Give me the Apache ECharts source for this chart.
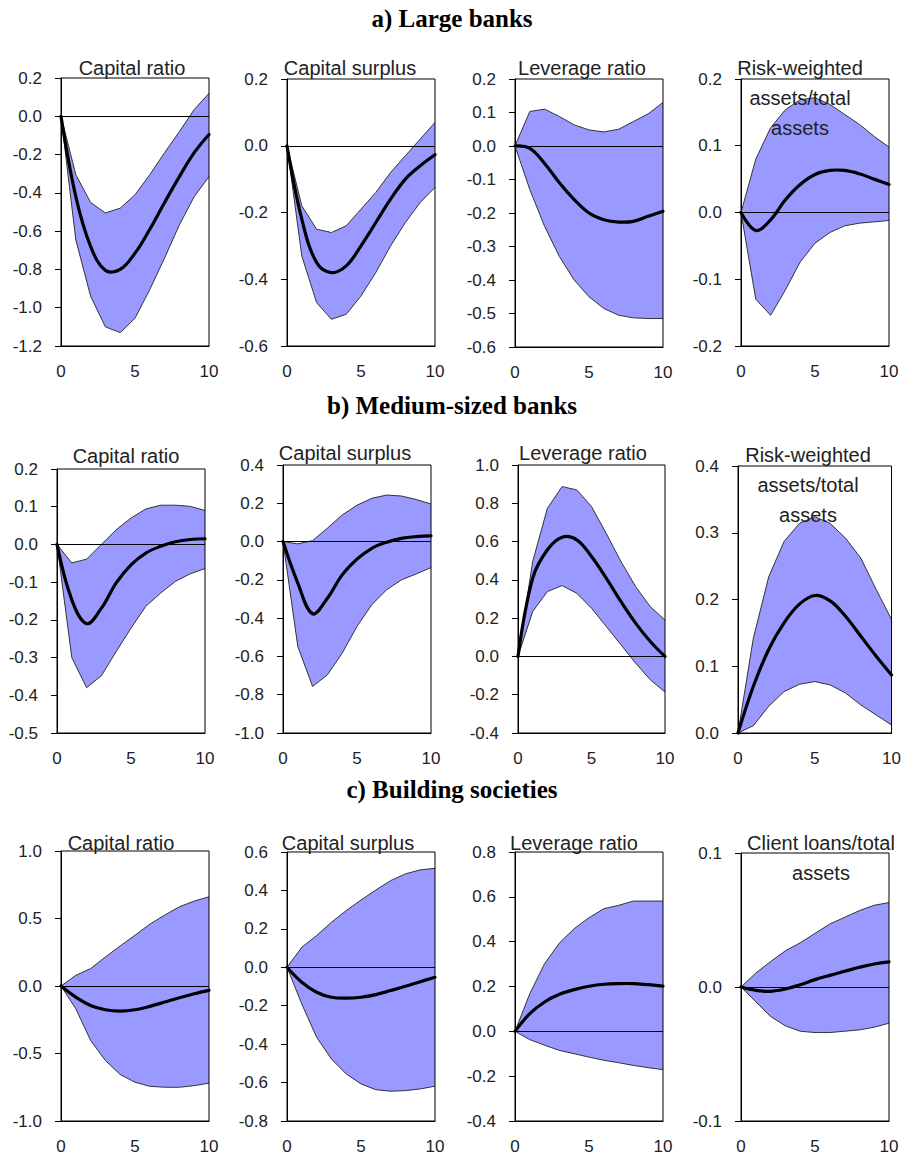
<!DOCTYPE html>
<html><head><meta charset="utf-8">
<script src="https://cdn.jsdelivr.net/npm/echarts@6/dist/echarts.min.js"></script>
<style>html,body{margin:0;padding:0;background:#fff}#c{width:904px;height:1157px}</style>
</head><body><div id="c"></div>
<script>
// ---------------- data ----------------
const horizon = [0, 1, 2, 3, 4, 5, 6, 7, 8, 9, 10];
const sectionTitles = ['a) Large banks', 'b) Medium-sized banks', 'c) Building societies'];
const panelTitles = [
  'Capital ratio', 'Capital surplus', 'Leverage ratio', 'Risk-weighted\nassets/total\nassets',
  'Capital ratio', 'Capital surplus', 'Leverage ratio', 'Risk-weighted\nassets/total\nassets',
  'Capital ratio', 'Capital surplus', 'Leverage ratio', 'Client loans/total\nassets'
];
// y-axis tick ranges [min, max, step]
const yTickRanges = [
  [-1.2, 0.2, 0.2], [-0.6, 0.2, 0.2], [-0.6, 0.2, 0.1], [-0.2, 0.2, 0.1],
  [-0.5, 0.2, 0.1], [-1.0, 0.4, 0.2], [-0.4, 1.0, 0.2], [0.0, 0.4, 0.1],
  [-1.0, 1.0, 0.5], [-0.8, 0.6, 0.2], [-0.4, 0.8, 0.2], [-0.1, 0.1, 0.1]
];

// a) Large banks
const largeCapRatioMean = [0, -0.42, -0.68, -0.805, -0.80, -0.715, -0.59, -0.45, -0.315, -0.19, -0.095];
const largeCapRatioLow  = [0, -0.645, -0.94, -1.10, -1.13, -1.055, -0.905, -0.74, -0.567, -0.42, -0.315];
const largeCapRatioHigh = [0, -0.305, -0.45, -0.505, -0.48, -0.41, -0.305, -0.19, -0.08, 0.035, 0.12];

const largeCapSurplusMean = [0, -0.22, -0.35, -0.38, -0.36, -0.30, -0.23, -0.16, -0.10, -0.06, -0.027];
const largeCapSurplusLow  = [0, -0.33, -0.47, -0.52, -0.505, -0.45, -0.38, -0.30, -0.23, -0.17, -0.125];
const largeCapSurplusHigh = [0, -0.18, -0.25, -0.26, -0.24, -0.19, -0.14, -0.08, -0.03, 0.02, 0.07];

const largeLeverageMean = [0, -0.007, -0.052, -0.11, -0.16, -0.20, -0.22, -0.227, -0.225, -0.21, -0.195];
const largeLeverageLow  = [0, -0.13, -0.24, -0.33, -0.40, -0.45, -0.485, -0.505, -0.513, -0.515, -0.515];
const largeLeverageHigh = [0, 0.103, 0.11, 0.088, 0.063, 0.048, 0.042, 0.05, 0.073, 0.096, 0.13];

const largeRwaMean = [0, -0.027, -0.011, 0.019, 0.042, 0.057, 0.063, 0.063, 0.058, 0.05, 0.042];
const largeRwaLow  = [0, -0.13, -0.154, -0.116, -0.074, -0.046, -0.03, -0.02, -0.016, -0.014, -0.012];
const largeRwaHigh = [0, 0.08, 0.127, 0.154, 0.169, 0.172, 0.162, 0.147, 0.132, 0.114, 0.098];

// b) Medium-sized banks
const medCapRatioMean = [0, -0.147, -0.21, -0.169, -0.102, -0.054, -0.023, -0.005, 0.007, 0.013, 0.015];
const medCapRatioLow  = [0, -0.30, -0.38, -0.348, -0.284, -0.222, -0.164, -0.129, -0.098, -0.078, -0.064];
const medCapRatioHigh = [0, -0.049, -0.039, 0.0, 0.039, 0.07, 0.094, 0.104, 0.104, 0.101, 0.09];

const medCapSurplusMean = [0, -0.217, -0.377, -0.296, -0.174, -0.092, -0.035, -0.003, 0.017, 0.026, 0.03];
const medCapSurplusLow  = [0, -0.548, -0.757, -0.696, -0.583, -0.443, -0.33, -0.252, -0.2, -0.169, -0.136];
const medCapSurplusHigh = [0, -0.012, 0.005, 0.07, 0.139, 0.19, 0.226, 0.243, 0.238, 0.22, 0.196];

const medLeverageMean = [0, 0.409, 0.557, 0.623, 0.609, 0.522, 0.409, 0.287, 0.174, 0.078, 0.0];
const medLeverageLow  = [0, 0.235, 0.339, 0.37, 0.33, 0.252, 0.157, 0.061, -0.035, -0.122, -0.186];
const medLeverageHigh = [0, 0.496, 0.774, 0.887, 0.87, 0.783, 0.643, 0.496, 0.365, 0.26, 0.19];

const medRwaMean = [0, 0.07, 0.125, 0.165, 0.193, 0.206, 0.198, 0.175, 0.145, 0.115, 0.087];
const medRwaLow  = [0, 0.011, 0.04, 0.062, 0.073, 0.077, 0.072, 0.06, 0.042, 0.027, 0.012];
const medRwaHigh = [0, 0.142, 0.234, 0.287, 0.314, 0.324, 0.314, 0.292, 0.262, 0.215, 0.17];

// c) Building societies
const bsCapRatioMean = [0, -0.082, -0.144, -0.176, -0.186, -0.176, -0.151, -0.119, -0.087, -0.057, -0.032];
const bsCapRatioLow  = [0, -0.168, -0.403, -0.552, -0.656, -0.713, -0.743, -0.75, -0.75, -0.738, -0.72];
const bsCapRatioHigh = [0, 0.079, 0.129, 0.215, 0.297, 0.376, 0.458, 0.525, 0.587, 0.629, 0.661];

const bsCapSurplusMean = [0, -0.078, -0.13, -0.156, -0.161, -0.156, -0.142, -0.121, -0.099, -0.075, -0.052];
const bsCapSurplusLow  = [0, -0.191, -0.364, -0.477, -0.555, -0.607, -0.637, -0.645, -0.642, -0.633, -0.619];
const bsCapSurplusHigh = [0, 0.104, 0.165, 0.234, 0.295, 0.35, 0.402, 0.451, 0.486, 0.507, 0.515];

const bsLeverageMean = [0, 0.079, 0.131, 0.165, 0.186, 0.201, 0.21, 0.213, 0.213, 0.208, 0.202];
const bsLeverageLow  = [0, -0.037, -0.062, -0.085, -0.1, -0.115, -0.129, -0.14, -0.152, -0.162, -0.171];
const bsLeverageHigh = [0, 0.168, 0.302, 0.394, 0.458, 0.507, 0.547, 0.562, 0.581, 0.581, 0.581];

const bsLoansMean = [0, -0.0025, -0.0032, -0.0015, 0.0017, 0.0055, 0.0087, 0.0117, 0.0147, 0.0172, 0.0187];
const bsLoansLow  = [0, -0.011, -0.022, -0.029, -0.033, -0.034, -0.034, -0.033, -0.032, -0.030, -0.027];
const bsLoansHigh = [0, 0.0104, 0.019, 0.027, 0.033, 0.040, 0.047, 0.052, 0.057, 0.061, 0.063];

const panelSeries = [
  [largeCapRatioMean, largeCapRatioLow, largeCapRatioHigh],
  [largeCapSurplusMean, largeCapSurplusLow, largeCapSurplusHigh],
  [largeLeverageMean, largeLeverageLow, largeLeverageHigh],
  [largeRwaMean, largeRwaLow, largeRwaHigh],
  [medCapRatioMean, medCapRatioLow, medCapRatioHigh],
  [medCapSurplusMean, medCapSurplusLow, medCapSurplusHigh],
  [medLeverageMean, medLeverageLow, medLeverageHigh],
  [medRwaMean, medRwaLow, medRwaHigh],
  [bsCapRatioMean, bsCapRatioLow, bsCapRatioHigh],
  [bsCapSurplusMean, bsCapSurplusLow, bsCapSurplusHigh],
  [bsLeverageMean, bsLeverageLow, bsLeverageHigh],
  [bsLoansMean, bsLoansLow, bsLoansHigh]
];

// ---------------- layout ----------------
// plot rectangles [left, top, width, height]
const gridRects = [
  [61, 78, 148, 268], [287, 79, 148, 267], [515, 79, 148, 268], [741, 79, 148, 267],
  [57, 469, 148, 264], [283, 465, 148, 268], [518, 465, 147, 268], [738, 466, 154, 267],
  [61, 851, 148, 270], [287, 852, 148, 269], [515, 852, 148, 269], [741, 853, 148, 268]
];
// title anchor [centerX, firstLineCenterY]
const titleAnchors = [
  [132, 68], [350, 68], [582, 68], [800, 68],
  [126, 456], [345, 453], [583, 453], [808, 455],
  [121, 843], [348, 843], [574, 843], [821, 843]
];
const sectionAnchors = [[452, 18], [452, 405], [452, 789]];

const FONT = '"Liberation Sans", Arial, sans-serif';
const BAND = '#9999FF';

const grids = [], xAxes = [], yAxes = [], series = [], graphics = [];

gridRects.forEach(function (r, i) {
  grids.push({ left: r[0], top: r[1], width: r[2], height: r[3], show: true,
    borderColor: '#000', borderWidth: 1, backgroundColor: 'transparent', z: 10 });
  xAxes.push({ type: 'value', gridIndex: i, min: 0, max: 10, interval: 5,
    axisLine: { show: true, onZero: false, lineStyle: { color: '#000', width: 1 } },
    axisTick: { show: false }, splitLine: { show: false },
    axisLabel: { fontSize: 17, color: '#222', fontFamily: FONT, margin: 17 } });
  const yr = yTickRanges[i];
  yAxes.push({ type: 'value', gridIndex: i, min: yr[0], max: yr[1], interval: yr[2],
    axisLine: { show: true, onZero: false, lineStyle: { color: '#000', width: 1 } },
    axisTick: { show: true, inside: false, length: 6, lineStyle: { color: '#000' } },
    splitLine: { show: false },
    axisLabel: { fontSize: 17, color: '#222', fontFamily: FONT, margin: 19,
      formatter: function (v) { return Math.abs(v) < 1e-9 ? '0.0' : v.toFixed(1); } } });

  const mean = panelSeries[i][0], lo = panelSeries[i][1], hi = panelSeries[i][2];
  // confidence band
  series.push({
    type: 'custom', xAxisIndex: i, yAxisIndex: i, silent: true, z: 1,
    data: [[0, 0]],
    renderItem: function (params, api) {
      const pts = [];
      for (let k = 0; k < horizon.length; k++) pts.push(api.coord([horizon[k], hi[k]]));
      for (let k = horizon.length - 1; k >= 0; k--) pts.push(api.coord([horizon[k], lo[k]]));
      return { type: 'polygon', shape: { points: pts }, style: { fill: BAND, stroke: 'none' } };
    }
  });
  const toPts = function (arr) { return horizon.map(function (x, k) { return [x, arr[k]]; }); };
  series.push({ type: 'line', xAxisIndex: i, yAxisIndex: i, data: toPts(hi), symbol: 'none',
    silent: true, z: 2, lineStyle: { color: '#333', width: 1 } });
  series.push({ type: 'line', xAxisIndex: i, yAxisIndex: i, data: toPts(lo), symbol: 'none',
    silent: true, z: 2, lineStyle: { color: '#333', width: 1 },
    markLine: { silent: true, symbol: 'none', label: { show: false },
      lineStyle: { color: '#000', width: 1, type: 'solid' }, data: [{ yAxis: 0 }] } });
  // central estimate, drawn as a smooth spline through the data points
  series.push({
    type: 'custom', xAxisIndex: i, yAxisIndex: i, silent: true, z: 3,
    data: [[0, 0]],
    renderItem: function (params, api) {
      const pts = horizon.map(function (x, k) { return api.coord([x, mean[k]]); });
      return { type: 'polyline', shape: { points: pts, smooth: 0.38 },
        style: { stroke: '#000', lineWidth: 3.2, fill: null, lineJoin: 'round', lineCap: 'round' } };
    }
  });

  const lines = panelTitles[i].split('\n');
  lines.forEach(function (t, k) {
    graphics.push({ type: 'text', z: 100, x: titleAnchors[i][0], y: titleAnchors[i][1] + k * 30, silent: true,
      style: { text: t, fontSize: 20, fontFamily: FONT, fill: '#222', align: 'center', verticalAlign: 'middle' } });
  });
});

sectionTitles.forEach(function (t, k) {
  graphics.push({ type: 'text', z: 100, x: sectionAnchors[k][0], y: sectionAnchors[k][1], silent: true,
    style: { text: t, fontSize: 25, fontWeight: 'bold', fontFamily: '"Liberation Serif", "Times New Roman", serif',
      fill: '#000', align: 'center', verticalAlign: 'middle' } });
});

const chart = echarts.init(document.getElementById('c'), null, { renderer: 'svg', width: 904, height: 1157 });
chart.setOption({
  animation: false,
  backgroundColor: '#fff',
  grid: grids, xAxis: xAxes, yAxis: yAxes, series: series,
  graphic: { elements: graphics }
});
</script></body></html>
